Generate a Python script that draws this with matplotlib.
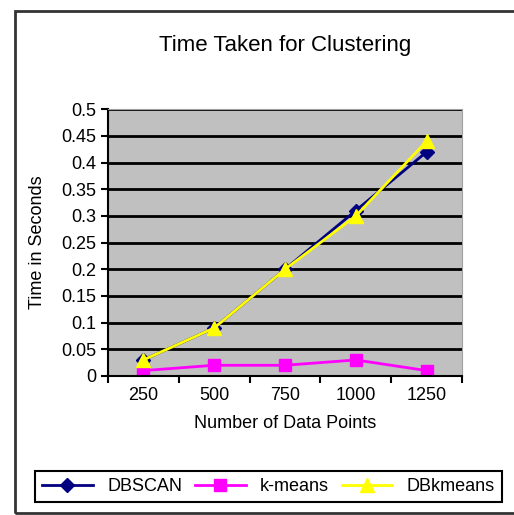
import matplotlib.pyplot as plt
from matplotlib.patches import Rectangle

plt.rcParams['font.family'] = ['Liberation Sans', 'DejaVu Sans']

# data
points = ['250', '500', '750', '1000', '1250']
dbscan = [0.03, 0.09, 0.20, 0.31, 0.42]
kmeans = [0.01, 0.02, 0.02, 0.03, 0.01]
dbkmeans = [0.03, 0.09, 0.20, 0.30, 0.44]
yticks = [0, 0.05, 0.1, 0.15, 0.2, 0.25, 0.3, 0.35, 0.4, 0.45, 0.5]
ytick_labels = ['0', '0.05', '0.1', '0.15', '0.2', '0.25', '0.3', '0.35', '0.4', '0.45', '0.5']

fig = plt.figure(figsize=(5.14, 5.15), dpi=100)
ax = fig.add_axes([0.210, 0.270, 0.689, 0.518])

# outer chart border (Excel style), right side runs off the picture
fig.patches.append(Rectangle((0.029, 0.004), 1.1, 0.975, transform=fig.transFigure,
                             fill=False, edgecolor='#333333', linewidth=2, zorder=0))

x = range(len(points))
ax.set_facecolor('#c0c0c0')
ax.plot(x, dbscan, color='#000080', marker='D', markersize=7, lw=2, label='DBSCAN')
ax.plot(x, kmeans, color='#ff00ff', marker='s', markersize=8, lw=2, label='k-means')
ax.plot(x, dbkmeans, color='#ffff00', marker='^', markersize=10, lw=2, label='DBkmeans')

ax.set_xlim(-0.5, 4.5)
ax.set_ylim(0, 0.5)
ax.set_yticks(yticks)
ax.set_yticklabels(ytick_labels, fontsize=13)
ax.set_xticks([i - 0.5 for i in range(len(points) + 1)])
ax.set_xticklabels([])
ax.set_xticks(list(x), minor=True)
ax.set_xticklabels(points, minor=True, fontsize=13)
ax.tick_params(axis='x', which='minor', length=0, pad=8)
ax.tick_params(axis='x', which='major', length=5, width=1.5)
ax.tick_params(axis='y', length=5, width=1.5)
ax.grid(axis='y', color='black', linewidth=2)
ax.set_axisbelow(True)

for side in ['top', 'right']:
    ax.spines[side].set_color('#a0a0a0')
for side in ['left', 'bottom']:
    ax.spines[side].set_linewidth(1.5)

ax.set_title('Time Taken for Clustering', fontsize=16, pad=42)
ax.set_xlabel('Number of Data Points', fontsize=13, labelpad=8)
ax.set_ylabel('Time in Seconds', fontsize=13, labelpad=11)

leg = fig.legend(loc='lower left', bbox_to_anchor=(0.068, 0.025, 0.909, 0.068),
                 mode='expand', ncol=3, fontsize=13, handlelength=2.8,
                 fancybox=False, edgecolor='black', framealpha=1, borderaxespad=0)
leg.get_frame().set_linewidth(1.5)

fig.savefig('out.png', dpi=100)
